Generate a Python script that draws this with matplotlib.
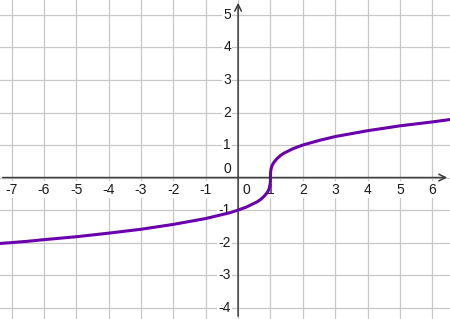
import matplotlib
matplotlib.use("Agg")
import matplotlib.pyplot as plt

# points
xs = [-7.4, -7, -6.5, -6, -5, -4, -3, -2, -1, -0.5, -0.25, 0, 0.25, 0.5, 0.6, 0.7, 0.8,
      0.9, 0.95, 0.98, 0.995, 0.999, 1, 1.001, 1.005, 1.02, 1.05, 1.1, 1.2, 1.3, 1.4,
      1.5, 1.7, 2, 2.5, 3, 4, 5, 6, 6.6]
ys = [-2.03, -2.0, -1.96, -1.91, -1.82, -1.71, -1.59, -1.44, -1.26, -1.14, -1.08, -1.0,
      -0.91, -0.79, -0.74, -0.67, -0.58, -0.46, -0.37, -0.27, -0.17, -0.1, 0.0, 0.1,
      0.17, 0.27, 0.37, 0.46, 0.58, 0.67, 0.74, 0.79, 0.89, 1.0, 1.14, 1.26, 1.44,
      1.59, 1.71, 1.79]

xticks = [-7, -6, -5, -4, -3, -2, -1, 1, 2, 3, 4, 5, 6]
yticks = [-4, -3, -2, -1, 1, 2, 3, 4, 5]

plt.rcParams["font.family"] = ["Liberation Sans", "DejaVu Sans"]

fig = plt.figure(figsize=(4.5, 3.19), dpi=100)
ax = fig.add_axes([0, 0, 1, 1])
ax.set_xlim(-7.36, 6.55)
ax.set_ylim(-4.35, 5.46)
ax.axis("off")

grid = "#c8c8c8"
for gx in range(-7, 7):
    ax.axvline(gx, color=grid, lw=0.9, zorder=0)
for gy in range(-4, 6):
    ax.axhline(gy, color=grid, lw=0.9, zorder=0)

axc = "#3c3c3c"
ax.annotate("", xy=(6.55, 0), xytext=(-7.36, 0),
            arrowprops=dict(arrowstyle="->", color=axc, lw=1.1, mutation_scale=12), zorder=2)
ax.annotate("", xy=(0, 5.46), xytext=(0, -4.35),
            arrowprops=dict(arrowstyle="->", color=axc, lw=1.1, mutation_scale=12), zorder=2)

box = dict(facecolor="white", edgecolor="none", pad=1)
fs = 10
for t in xticks:
    ax.text(t, -0.16, str(t), ha="center", va="top",
            fontsize=fs, color="#1a1a1a", bbox=box, zorder=3)
for t in yticks:
    ax.text(-0.22, t, str(t), ha="right", va="center",
            fontsize=fs, color="#1a1a1a", bbox=box, zorder=3)
ax.text(-0.22, 0.06, "0", ha="right", va="bottom", fontsize=fs, color="#1a1a1a", zorder=3)
ax.text(0.27, -0.16, "0", ha="center", va="top", fontsize=fs, color="#1a1a1a", zorder=3)

ax.plot(xs, ys, color="#6a00ad", lw=2.2, solid_capstyle="round", zorder=4)

fig.savefig("out.png", dpi=100)
